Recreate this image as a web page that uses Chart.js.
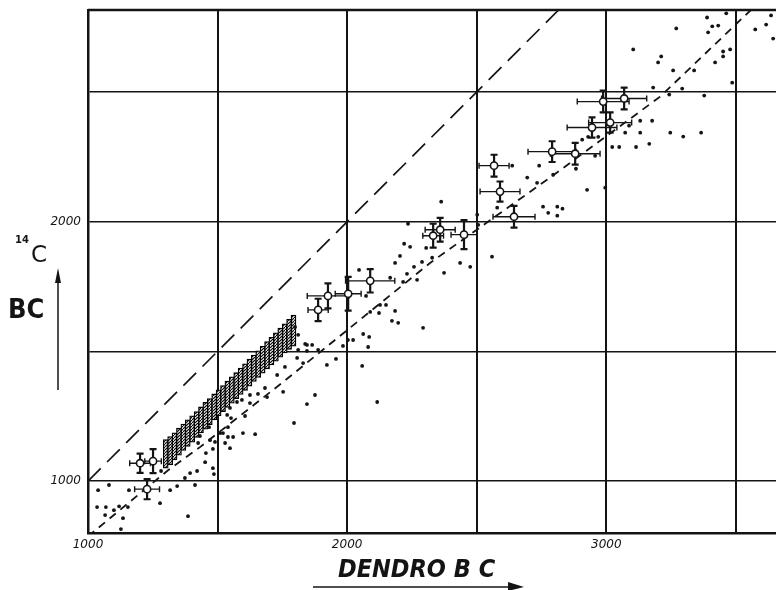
<!DOCTYPE html>
<html>
<head>
<meta charset="utf-8">
<script src="https://cdn.jsdelivr.net/npm/chart.js"></script>
<style>
  html, body { margin: 0; padding: 0; background: #fff; }
  #wrap { width: 776px; height: 590px; }
</style>
</head>
<body>
<div id="wrap"><canvas id="myChart" width="776" height="590"></canvas></div>
<script>
// axes
const xTicks = [1000, 1500, 2000, 2500, 3000, 3500];
const xTickLabels = ['1000', '', '2000', '', '3000', ''];
const yTicks = [1000, 1500, 2000, 2500];
const yTickLabels = ['1000', '', '2000', ''];

// single dated samples (dendro BC, 14C BC)
const dotX = [1039, 1081, 1158, 1282, 1317, 1344, 1374, 1394, 1413, 1421, 1452, 1455, 1482, 1486, 1490, 1482, 1521,
  1560, 1540, 1548, 1598, 1645, 1540, 1035, 1069, 1100, 1120, 1154, 1066, 1135, 1278, 1386, 1127,
  1799, 1811, 1838, 1811, 1845, 1807, 1760, 1730, 1753, 1845, 1795, 1683, 1656, 1625, 1691, 1625, 1594, 1575,
  1548, 1606, 1552, 1537, 1467, 1432, 1510, 1425, 1471, 1529,
  1845, 1865, 1830, 1888, 1922, 1957, 1984, 2003, 2023, 2058, 2062, 2085, 2081, 1876, 2116, 2089, 2123, 2127,
  2150, 2185, 2173, 2197, 2293, 2046, 2073, 2166, 2216, 2231, 2270, 2258, 2185, 2220, 2243, 2204, 2289, 2305,
  2235, 2328, 2374, 2436, 2475, 2363, 2502, 2506, 2559, 2579, 2695, 2733, 2741, 2756, 2776, 2637, 2811, 2831,
  2811, 2926, 2996, 2907, 2883, 2795,
  2930, 2969, 2957, 3023, 3050, 3073, 3088, 3131, 3115, 3166, 3177, 3131, 3247, 3297, 3366, 3243, 3293, 3378,
  3181, 3486, 3258, 3339, 3200, 3212, 3104, 3270, 3420, 3451, 3451, 3478, 3393, 3409, 3432, 3389, 3463, 3575,
  3617, 3636, 3644];
const dotY = [965, 985, 965, 1039, 965, 981, 1012, 1031, 985, 1039, 1073, 1108, 1050, 1027, 1151, 1124, 1185,
  1170, 1170, 1127, 1185, 1181, 1208, 900, 900, 888, 903, 900, 869, 857, 915, 865, 815,
  1594, 1564, 1529, 1506, 1502, 1475, 1440, 1409, 1344, 1297, 1224, 1359, 1336, 1332, 1324, 1301, 1313, 1305,
  1282, 1251, 1243, 1255, 1208, 1174, 1185, 1147, 1158, 1147,
  1525, 1525, 1455, 1506, 1448, 1471, 1521, 1544, 1544, 1444, 1567, 1556, 1517, 1332, 1305, 1652, 1648, 1679,
  1679, 1656, 1618, 1610, 1591, 1814, 1714, 1784, 1768, 1799, 1776, 1826, 1841, 1915, 1903, 1868, 1845, 1899,
  1992, 1861, 1803, 1841, 1826, 2077, 2027, 1988, 1865, 2054, 2170, 2150, 2216, 2058, 2034, 2216, 2058, 2050,
  2023, 2123, 2131, 2316, 2204, 2181,
  2327, 2327, 2254, 2288, 2288, 2343, 2370, 2343, 2288, 2300, 2389, 2389, 2343, 2328, 2343, 2490, 2513, 2486,
  2517, 2536, 2583, 2583, 2614, 2637, 2664, 2745, 2614, 2637, 2656, 2664, 2730, 2753, 2756, 2787, 2803, 2741,
  2760, 2795, 2706];

// samples with error bars
const ebX = [1201, 1251, 1228, 1888, 1926, 2004, 2089, 2359, 2332, 2451, 2567, 2590, 2644, 2791, 2880, 2945, 3015, 2988, 3069];
const ebY = [1069, 1077, 969, 1660, 1714, 1722, 1772, 1969, 1946, 1950, 2216, 2116, 2019, 2270, 2262, 2363, 2382, 2463, 2475];
const ebXErr = [40, 32, 48, 39, 80, 50, 95, 58, 40, 50, 58, 77, 81, 93, 96, 96, 83, 100, 87];
const ebYErr = [37, 46, 39, 43, 48, 65, 45, 46, 46, 56, 42, 39, 42, 40, 42, 39, 39, 42, 42];

// hatched band
const bandX = [1300, 1317, 1334, 1351, 1368, 1385, 1402, 1419, 1436, 1453, 1470, 1487, 1504, 1521, 1538,
  1555, 1572, 1589, 1606, 1623, 1640, 1657, 1674, 1691, 1708, 1725, 1742, 1759, 1776, 1793];
const bandLo = [1050, 1062, 1082, 1100, 1118, 1134, 1150, 1168, 1186, 1200, 1218, 1236, 1252, 1268, 1284,
  1300, 1318, 1334, 1350, 1366, 1384, 1400, 1416, 1432, 1448, 1462, 1478, 1494, 1508, 1520];
const bandHi = [1160, 1172, 1186, 1204, 1220, 1236, 1252, 1268, 1286, 1304, 1318, 1336, 1352, 1368, 1386,
  1402, 1418, 1436, 1452, 1470, 1486, 1502, 1520, 1538, 1554, 1572, 1590, 1606, 1624, 1640];

// 1:1 line and drawn curve
const equalX = [1000, 2816];
const equalY = [1000, 2816];
const curveX = [1000, 1309, 1432, 1753, 2320, 2783, 3208, 3558];
const curveY = [787, 1042, 1131, 1382, 1841, 2170, 2482, 2816];

const ink = '#141414';

function hatchPattern() {
  const c = document.createElement('canvas');
  c.width = 3; c.height = 3;
  const g = c.getContext('2d');
  g.fillStyle = '#e8e8e8';
  g.fillRect(0, 0, 3, 3);
  g.strokeStyle = '#000';
  g.lineWidth = 1.1;
  g.beginPath();
  g.moveTo(0, 3); g.lineTo(3, 0);
  g.stroke();
  return g.createPattern(c, 'repeat');
}

const errorBars = {
  id: 'errorBars',
  beforeDatasetsDraw(chart) {
    const { ctx, scales: { x, y } } = chart;
    ctx.save();
    ctx.strokeStyle = ink;
    ebX.forEach((v, i) => {
      const px = x.getPixelForValue(v);
      const py = y.getPixelForValue(ebY[i]);
      const x0 = x.getPixelForValue(v - ebXErr[i]);
      const x1 = x.getPixelForValue(v + ebXErr[i]);
      const y0 = y.getPixelForValue(ebY[i] - ebYErr[i]);
      const y1 = y.getPixelForValue(ebY[i] + ebYErr[i]);
      ctx.lineWidth = 1.4;
      ctx.beginPath();
      ctx.moveTo(x0, py); ctx.lineTo(x1, py);
      ctx.moveTo(x0, py - 3); ctx.lineTo(x0, py + 3);
      ctx.moveTo(x1, py - 3); ctx.lineTo(x1, py + 3);
      ctx.stroke();
      ctx.lineWidth = 2.2;
      ctx.beginPath();
      ctx.moveTo(px, y0); ctx.lineTo(px, y1);
      ctx.moveTo(px - 3.5, y0); ctx.lineTo(px + 3.5, y0);
      ctx.moveTo(px - 3.5, y1); ctx.lineTo(px + 3.5, y1);
      ctx.stroke();
    });
    ctx.restore();
  }
};

const frameAndTitles = {
  id: 'frameAndTitles',
  afterDraw(chart) {
    const { ctx, chartArea } = chart;
    ctx.save();
    ctx.strokeStyle = ink;
    ctx.fillStyle = ink;

    // top border
    ctx.lineWidth = 2.5;
    ctx.beginPath();
    ctx.moveTo(chartArea.left, chartArea.top);
    ctx.lineTo(chartArea.right, chartArea.top);
    ctx.stroke();

    // y title: 14C, BC and arrow
    ctx.textBaseline = 'alphabetic';
    ctx.textAlign = 'left';
    ctx.font = 'bold 10px "DejaVu Sans"';
    ctx.fillText('14', 15, 243);
    ctx.font = '23px "DejaVu Sans"';
    ctx.fillText('C', 31, 262);
    ctx.font = 'bold 27px "DejaVu Sans Condensed"';
    ctx.fillText('BC', 8, 318);

    ctx.lineWidth = 1.5;
    ctx.beginPath();
    ctx.moveTo(58, 390); ctx.lineTo(58, 278);
    ctx.stroke();
    ctx.beginPath();
    ctx.moveTo(58, 268); ctx.lineTo(61, 283); ctx.lineTo(55, 283);
    ctx.closePath();
    ctx.fill();

    // x title and arrow
    ctx.font = 'italic bold 25px "DejaVu Sans Condensed"';
    ctx.fillText('DENDRO B C', 338, 577);
    ctx.lineWidth = 1.6;
    ctx.beginPath();
    ctx.moveTo(313, 587); ctx.lineTo(510, 587);
    ctx.stroke();
    ctx.beginPath();
    ctx.moveTo(524, 587); ctx.lineTo(508, 582); ctx.lineTo(508, 591);
    ctx.closePath();
    ctx.fill();
    ctx.restore();
  }
};

const ctx = document.getElementById('myChart').getContext('2d');
const chart = new Chart(ctx, {
  type: 'scatter',
  data: {
    datasets: [
      {
        label: 'circles',
        data: ebX.map((v, i) => ({ x: v, y: ebY[i] })),
        pointRadius: 3.6,
        pointBackgroundColor: '#fff',
        pointBorderColor: ink,
        pointBorderWidth: 1.6
      },
      {
        label: 'dots',
        data: dotX.map((v, i) => ({ x: v, y: dotY[i] })),
        pointRadius: 1.9,
        pointBackgroundColor: ink,
        pointBorderWidth: 0
      },
      {
        type: 'line',
        label: 'equal',
        data: equalX.map((v, i) => ({ x: v, y: equalY[i] })),
        borderColor: ink,
        borderWidth: 1.7,
        borderDash: [18, 9],
        pointRadius: 0,
        fill: false
      },
      {
        type: 'line',
        label: 'curve',
        data: curveX.map((v, i) => ({ x: v, y: curveY[i] })),
        borderColor: ink,
        borderWidth: 1.8,
        borderDash: [8, 6],
        pointRadius: 0,
        tension: 0,
        fill: false
      },
      {
        type: 'bar',
        label: 'band',
        data: bandX.map((v, i) => ({ x: v, y: [bandLo[i], bandHi[i]] })),
        backgroundColor: hatchPattern(),
        borderColor: '#000',
        borderWidth: 1.3,
        borderSkipped: false,
        barThickness: 5
      }
    ]
  },
  options: {
    responsive: false,
    devicePixelRatio: 1,
    animation: false,
    layout: { autoPadding: false, padding: { top: 10, right: 0, left: 0, bottom: 0 } },
    plugins: { legend: { display: false }, tooltip: { enabled: false } },
    scales: {
      x: {
        type: 'linear',
        position: 'bottom',
        min: 1000,
        max: 3655,
        offset: false,
        afterBuildTicks: (scale) => { scale.ticks = xTicks.map(v => ({ value: v })); },
        afterFit: (scale) => {
          scale.height = 57;
          scale.paddingLeft = 0;
          scale.paddingRight = 0;
        },
        grid: { color: ink, lineWidth: 2, drawTicks: false, offset: false },
        border: { color: ink, width: 2.5 },
        ticks: {
          padding: 5,
          color: ink,
          font: { family: '"DejaVu Sans"', style: 'italic', size: 12 },
          callback: (v, i) => xTickLabels[i]
        }
      },
      y: {
        type: 'linear',
        position: 'left',
        min: 800,
        max: 2816,
        afterBuildTicks: (scale) => { scale.ticks = yTicks.map(v => ({ value: v })); },
        afterFit: (scale) => {
          scale.width = 88;
          scale.paddingTop = 0;
          scale.paddingBottom = 0;
        },
        grid: { color: ink, lineWidth: 1.4, drawTicks: false },
        border: { color: ink, width: 2.5 },
        ticks: {
          padding: 7,
          color: ink,
          font: { family: '"DejaVu Sans"', style: 'italic', size: 12 },
          callback: (v, i) => yTickLabels[i]
        }
      }
    }
  },
  plugins: [errorBars, frameAndTitles]
});
</script>
</body>
</html>
